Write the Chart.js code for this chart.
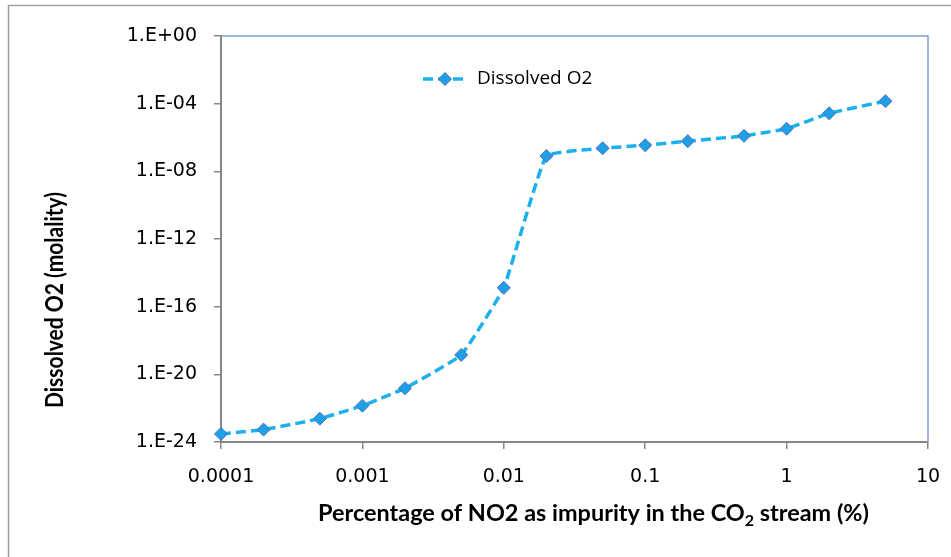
<!DOCTYPE html>
<html><head><meta charset="utf-8">
<script src="https://cdn.jsdelivr.net/npm/chart.js@4/dist/chart.umd.min.js"></script>
<style>html,body{margin:0;padding:0;background:#fff;}</style>
</head><body>
<canvas id="c" width="951" height="557"></canvas>
<script>
const no2Percent = [0.0001,0.0002,0.0005,0.001,0.002,0.005,0.01,0.02,0.05,0.1,0.2,0.5,1,2,5];
const dissolvedO2 = [3e-24,5.4e-24,2.4e-23,1.4e-22,1.5e-21,1.4e-19,1.3e-15,8e-8,2.3e-7,3.5e-7,6.1e-7,1.25e-6,3.3e-6,2.7e-5,1.4e-4];
const xTickValues = [0.0001,0.001,0.01,0.1,1,10];
const xTickLabels = ['0.0001','0.001','0.01','0.1','1','10'];
const yTickValues = [1,1e-4,1e-8,1e-12,1e-16,1e-20,1e-24];
const yTickLabels = ['1.E+00','1.E-04','1.E-08','1.E-12','1.E-16','1.E-20','1.E-24'];
const seriesName = 'Dissolved O2';
const xTitleMain = 'Percentage of NO2 as impurity in the CO';
const xTitleSub = '2';
const xTitleEnd = ' stream (%)';
const yTitle = 'Dissolved O2 (molality)';

const LINE = '#1CB0EE', MFILL = '#1E9FE6', MEDGE = '#4A72B8';
const tickFont = {family:'DejaVu Sans', size:19};
const titleFamily = 'Lato';

const decor = {
  id:'decor',
  beforeDraw(chart){
    const ctx = chart.ctx;
    ctx.save();
    ctx.strokeStyle = '#A0A0A0'; ctx.lineWidth = 1.5;
    ctx.strokeRect(8.5, 5.5, 1200, 1200);
    ctx.restore();
  },
  afterDraw(chart){
    const ctx = chart.ctx, a = chart.chartArea;
    ctx.save();
    // plot area top/right border
    ctx.strokeStyle = '#7F9FD4'; ctx.lineWidth = 1.5;
    ctx.beginPath(); ctx.moveTo(a.left, a.top); ctx.lineTo(a.right, a.top); ctx.lineTo(a.right, a.bottom); ctx.stroke();
    // legend
    const ly = 79;
    ctx.strokeStyle = LINE; ctx.lineWidth = 3.5; ctx.setLineDash([10,5]);
    ctx.beginPath(); ctx.moveTo(423, ly); ctx.lineTo(467, ly); ctx.stroke();
    ctx.setLineDash([]);
    ctx.fillStyle = MFILL; ctx.strokeStyle = MEDGE; ctx.lineWidth = 1;
    Chart.helpers.drawPoint(ctx, {pointStyle:'rectRot', radius:6.5, borderWidth:1}, 445, ly);
    ctx.fillStyle = '#000'; ctx.font = '19px "Open Sans"'; ctx.textBaseline = 'middle'; ctx.textAlign = 'left';
    ctx.fillText(seriesName, 477, ly);
    // x title (horizontally stretched like the reference)
    const big = 'bold 22px ' + titleFamily, small = 'bold 15px ' + titleFamily;
    ctx.font = big; const w1 = ctx.measureText(xTitleMain).width;
    ctx.font = small; const w2 = ctx.measureText(xTitleSub).width;
    ctx.font = big; const w3 = ctx.measureText(xTitleEnd).width;
    const total = w1 + w2 + w3;
    const sx = 551 / total;
    ctx.save();
    ctx.translate(593.5 - 551/2, 521);
    ctx.scale(sx, 1);
    ctx.textBaseline = 'alphabetic';
    ctx.font = big; ctx.fillText(xTitleMain, 0, 0);
    ctx.font = small; ctx.fillText(xTitleSub, w1, 5);
    ctx.font = big; ctx.fillText(xTitleEnd, w1 + w2, 0);
    ctx.restore();
    // y title
    ctx.font = big;
    const yw = ctx.measureText(yTitle).width;
    ctx.translate(55, 300); ctx.rotate(-Math.PI/2);
    ctx.scale(216 / yw, 1.1);
    ctx.textAlign = 'center'; ctx.textBaseline = 'middle';
    ctx.fillText(yTitle, 0, 0);
    ctx.restore();
  }
};

new Chart(document.getElementById('c'), {
  type:'line',
  data:{
    datasets:[{
      label: seriesName,
      data: no2Percent.map((x,i)=>({x, y: dissolvedO2[i]})),
      borderColor: LINE, borderWidth: 3.5, borderDash:[10,5],
      pointStyle:'rectRot', pointRadius:6.5, pointBackgroundColor: MFILL, pointBorderColor: MEDGE, pointBorderWidth:1,
      tension:0.1, clip:false, fill:false
    }]
  },
  options:{
    responsive:false, animation:false, devicePixelRatio:1,
    layout:{padding:{left:0, top:36, right:23, bottom:0}},
    plugins:{legend:{display:false}, tooltip:{enabled:false}},
    scales:{
      x:{
        type:'logarithmic', min:1e-4, max:10,
        afterBuildTicks: s => { s.ticks = xTickValues.map(v=>({value:v})); },
        afterFit: s => { s.height = 115; s.paddingLeft = 0; s.paddingRight = 0; },
        ticks:{autoSkip:false, maxRotation:0, font:tickFont, color:'#000', padding:17,
          callback: v => xTickLabels[xTickValues.indexOf(v)]},
        grid:{drawOnChartArea:false, drawTicks:true, tickLength:7, color:'#868686', lineWidth:1.5},
        border:{color:'#868686', width:2}
      },
      y:{
        type:'logarithmic', min:1e-24, max:1,
        afterBuildTicks: s => { s.ticks = yTickValues.map(v=>({value:v})); },
        afterFit: s => { s.width = 221; s.paddingTop = 0; s.paddingBottom = 0; },
        ticks:{autoSkip:false, font:tickFont, color:'#000', padding:17,
          callback: v => yTickLabels[yTickValues.indexOf(v)]},
        grid:{drawOnChartArea:false, drawTicks:true, tickLength:7, color:'#868686', lineWidth:1.5},
        border:{color:'#868686', width:2}
      }
    }
  },
  plugins:[decor]
});
</script>
</body></html>
